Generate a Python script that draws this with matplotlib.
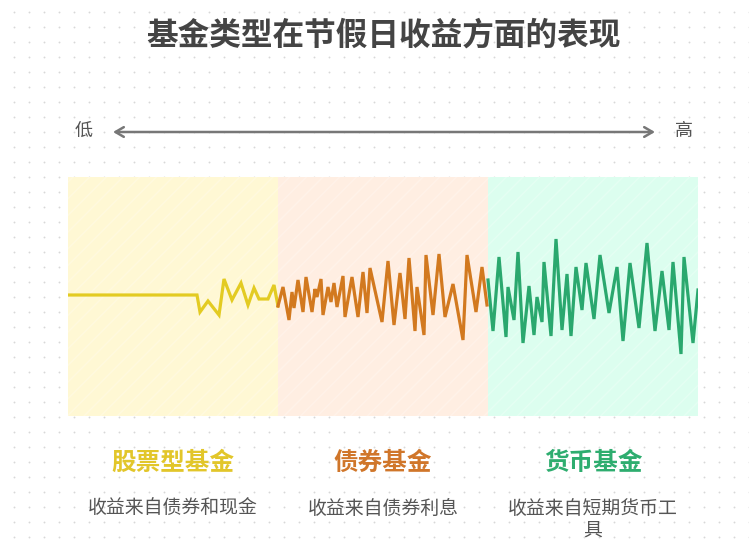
import matplotlib
matplotlib.use("Agg")
import matplotlib.pyplot as plt
import numpy as np

plt.rcParams['font.family'] = ['Noto Sans CJK SC', 'DejaVu Sans']

W, H = 749, 544

# chart text
title = "基金类型在节假日收益方面的表现"
low_label, high_label = "低", "高"
fund_names = ["股票型基金", "债券基金", "货币基金"]
fund_desc = ["收益来自债券和现金", "收益来自债券利息", "收益来自短期货币工\n具"]

# wave (x = position along the strip, y = swing around the middle)
stock_x = [0, 129, 132, 140, 151, 156, 164, 173, 180, 186, 191, 200, 206, 210]
stock_y = [0, 0, -17, -6, -20, 16, -5, 12, -10, 7, -4, -4, 10, -11]

bond_x = [210, 215, 221, 224, 226, 230, 235, 238, 244, 247, 249, 253, 255, 260, 263,
          266, 269, 275, 277, 284, 290, 295, 299, 302, 314, 320, 326, 332, 337, 341,
          347, 349, 356, 358, 365, 371, 377, 385, 395, 399, 408, 414, 419]
bond_y = [-11, 8, -25, 3, -13, 15, -17, 18, -17, 6, -2, 16, -20, 8, -7,
          12, -12, 19, -22, 18, -22, 23, -18, 27, -27, 34, -30, 22, -24, 37,
          -36, 8, -40, 40, -20, 41, -22, 11, -45, 40, -17, 28, -10]

money_x = [420, 425, 431, 438, 440, 446, 450, 455, 461, 466, 469, 474, 476, 483, 488,
           494, 499, 503, 508, 514, 518, 526, 532, 541, 549, 555, 562, 571, 579, 587,
           594, 601, 605, 613, 616, 625, 630]
money_y = [15, -36, 38, -42, 8, -25, 43, -48, 9, -40, -2, -27, 33, -41, 56,
           -35, 21, -41, 28, -15, 32, -24, 40, -18, 28, -46, 32, -33, 52, -36,
           24, -35, 33, -59, 38, -48, 5]

line_colors = ["#E3CB22", "#D2791F", "#2AA86E"]
panel_colors = ["#FFF8D4", "#FFEEE2", "#DCFEEF"]
name_colors = ["#E2C62A", "#D0762A", "#2EAD6F"]


def fx(px):
    return px / W


def fy(py):
    return 1 - py / H


fig = plt.figure(figsize=(W / 100, H / 100), dpi=100)
fig.patch.set_facecolor("white")

# dotted background
bg = fig.add_axes([0, 0, 1, 1])
bg.set_xlim(0, W)
bg.set_ylim(H, 0)
bg.axis("off")
gx, gy = np.meshgrid(np.arange(13.5, W, 15), np.arange(11.5, H, 15))
bg.scatter(gx.ravel(), gy.ravel(), s=1.8, color="#D8D8D8", linewidths=0)

# strip with the three zones
left, right, top, bottom = 68, 698, 177, 416
ax = fig.add_axes([fx(left), fy(bottom), (right - left) / W, (bottom - top) / H])
ax.set_xlim(0, 630)
ax.set_ylim(-121, 118)
ax.axis("off")
for i, c in enumerate(panel_colors):
    ax.axvspan(i * 210, (i + 1) * 210, facecolor=c, edgecolor="none", zorder=0)
    ax.axvspan(i * 210, (i + 1) * 210, facecolor="none", edgecolor=(1, 1, 1, 0.25),
               linewidth=0, hatch="//", zorder=1)

for xs, ys, c in [(stock_x, stock_y, line_colors[0]),
                  (bond_x, bond_y, line_colors[1]),
                  (money_x, money_y, line_colors[2])]:
    ax.plot(xs, ys, color=c, lw=2.3, zorder=3, solid_joinstyle="miter")

# title
fig.text(fx(383), fy(36), title, ha="center", va="center", fontsize=22.8,
         fontweight="bold", color="#444444")

# low -> high arrow
bg.annotate("", xy=(113, 132), xytext=(655, 132),
            arrowprops=dict(arrowstyle="<->,head_length=0.6,head_width=0.35",
                            color="#777777", lw=1.8, shrinkA=0, shrinkB=0))
fig.text(fx(84), fy(131), low_label, ha="center", va="center", fontsize=13, color="#555555")
fig.text(fx(684), fy(131), high_label, ha="center", va="center", fontsize=13, color="#555555")

# zone labels
for i in range(3):
    cx = left + 105 + i * 210
    fig.text(fx(cx), fy(463), fund_names[i], ha="center", va="center", fontsize=17.7,
             fontweight="bold", color=name_colors[i])
    fig.text(fx(cx), fy(498), fund_desc[i], ha="center", va="top", fontsize=13.6,
             color="#555555", linespacing=1.05)

fig.savefig("out.png", dpi=100, facecolor="white")
